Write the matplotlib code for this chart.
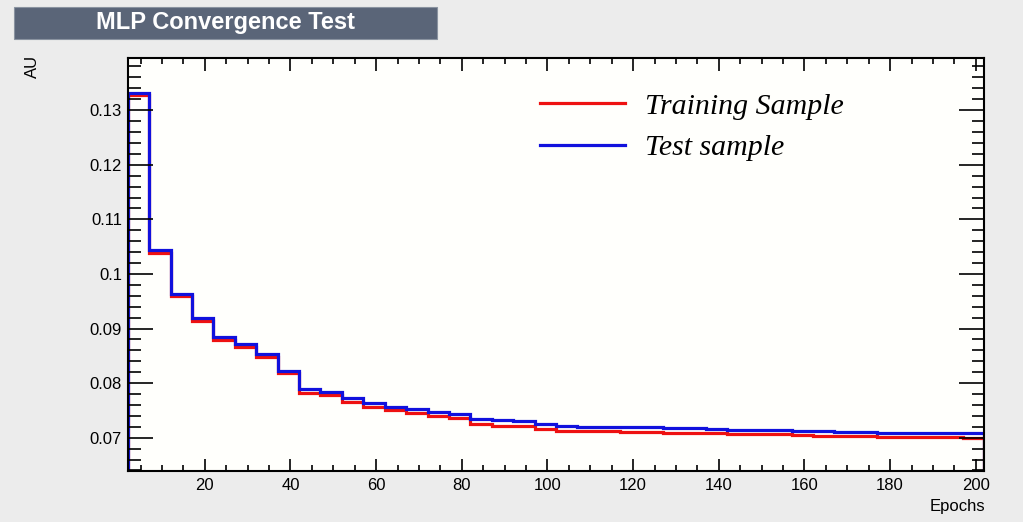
import numpy as np
import matplotlib
matplotlib.use("Agg")
import matplotlib.pyplot as plt
from matplotlib.patches import Rectangle
from matplotlib.ticker import MultipleLocator, FuncFormatter

# bin edges of the epoch histogram (width 5)
epoch_edges = np.arange(2, 203, 5)

train_err = [0.1327, 0.1039, 0.0959, 0.0913, 0.0879, 0.0866, 0.0847, 0.0818,
             0.0782, 0.0779, 0.0765, 0.0757, 0.0751, 0.0746, 0.0739, 0.0736,
             0.0725, 0.0722, 0.0721, 0.0716, 0.0713, 0.0712, 0.0712, 0.0711,
             0.0711, 0.0709, 0.0708, 0.0708, 0.0707, 0.0706, 0.0706, 0.0705,
             0.0704, 0.0703, 0.0703, 0.0702, 0.0702, 0.0702, 0.0701, 0.0700]
test_err = [0.1332, 0.1043, 0.0964, 0.0919, 0.0885, 0.0872, 0.0853, 0.0823,
            0.0789, 0.0784, 0.0772, 0.0763, 0.0757, 0.0753, 0.0747, 0.0744,
            0.0734, 0.0732, 0.0731, 0.0725, 0.0722, 0.0720, 0.0720, 0.0719,
            0.0719, 0.0717, 0.0717, 0.0716, 0.0715, 0.0714, 0.0714, 0.0713,
            0.0712, 0.0710, 0.0710, 0.0709, 0.0709, 0.0709, 0.0709, 0.0709]

series_labels = ["Training Sample", "Test sample"]

plt.rcParams["font.family"] = ["Liberation Sans", "DejaVu Sans"]

fig = plt.figure(figsize=(10.23, 5.22), dpi=100, facecolor="#ececec")
ax = fig.add_axes([0.1248, 0.0977, 0.8374, 0.7906])
ax.set_facecolor("#fffffc")

ax.stairs(train_err, epoch_edges, color="#ee1111", lw=2.3, label=series_labels[0])
ax.stairs(test_err, epoch_edges, color="#1111dd", lw=2.3, label=series_labels[1])

ax.set_xlim(epoch_edges[0], epoch_edges[-1])
ax.set_ylim(0.0639, 0.1395)

ax.xaxis.set_major_locator(MultipleLocator(20))
ax.xaxis.set_minor_locator(MultipleLocator(5))
ax.yaxis.set_major_locator(MultipleLocator(0.01))
ax.yaxis.set_minor_locator(MultipleLocator(0.002))
ax.yaxis.set_major_formatter(FuncFormatter(lambda v, p: ("%.2f" % v).rstrip("0")))
ax.xaxis.set_major_formatter(FuncFormatter(lambda v, p: "" if v < 10 else "%d" % v))

ax.tick_params(which="both", direction="in", top=True, right=True, width=1.2,
               labelsize=12, colors="black")
ax.tick_params(axis="x", which="major", length=9)
ax.tick_params(axis="x", which="minor", length=4.5)
ax.tick_params(axis="y", which="major", length=18)
ax.tick_params(axis="y", which="minor", length=9)
ax.tick_params(axis="x", pad=5)
ax.tick_params(axis="y", pad=4)
for s in ax.spines.values():
    s.set_linewidth(1.5)

leg = ax.legend(loc="upper left", bbox_to_anchor=(0.481, 0.916), frameon=False,
                borderpad=0, borderaxespad=0,
                handlelength=2.85, handletextpad=0.67, labelspacing=0.48,
                prop={"family": "Liberation Serif", "style": "italic", "size": 21.5})

fig.text(32 / 1023, 1 - 55 / 522, "AU", rotation=90, ha="center", va="top", fontsize=12)
fig.text(985 / 1023, 1 - 506 / 522, "Epochs", ha="right", va="center", fontsize=12)

# title box
fig.patches.append(Rectangle((14 / 1023, 1 - 39 / 522), 423 / 1023, 32 / 522,
                             transform=fig.transFigure, facecolor="#5a6578",
                             edgecolor="#8a93a0", lw=0.8))
fig.text(226 / 1023, 1 - 22 / 522, "MLP Convergence Test", color="white",
         fontsize=17, fontweight="bold", ha="center", va="center")

fig.savefig("out.png", dpi=100, facecolor=fig.get_facecolor())
